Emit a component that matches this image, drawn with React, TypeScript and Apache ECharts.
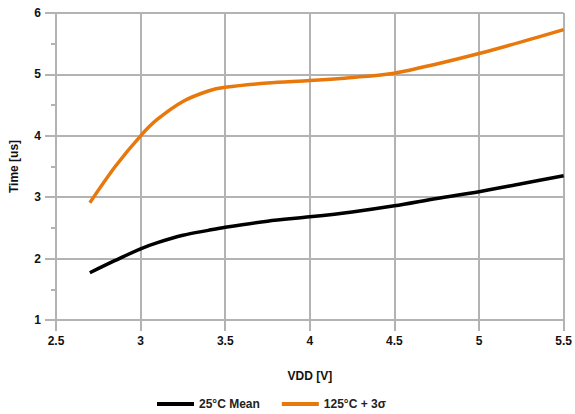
import React, { useEffect, useRef } from "react";
import * as echarts from "echarts";

const vdd = [2.7, 2.85, 3.0, 3.1, 3.25, 3.4, 3.5, 3.75, 4.0, 4.25, 4.5, 4.75, 5.0, 5.25, 5.5];
const mean25 = [1.77, 1.97, 2.16, 2.26, 2.38, 2.46, 2.51, 2.61, 2.68, 2.76, 2.86, 2.98, 3.09, 3.22, 3.35];
const hot125 = [2.91, 3.5, 4.0, 4.27, 4.56, 4.73, 4.79, 4.86, 4.9, 4.95, 5.02, 5.17, 5.34, 5.53, 5.73];

const seriesNames = ["25°C Mean", "125°C + 3σ"];
const seriesColors = ["#000000", "#E8780C"];

const FONT = "'Liberation Sans', Arial, sans-serif";
const GRID = "#b3b3b3";

export default function App() {
  const ref = useRef<HTMLDivElement>(null);
  useEffect(() => {
    if (!ref.current) return;
    const chart = echarts.init(ref.current, undefined, { renderer: "svg" });
    const toPairs = (ys: number[]) => vdd.map((x, i) => [x, ys[i]]);
    chart.setOption({
      animation: false,
      textStyle: { fontFamily: FONT },
      grid: { left: 54, right: 8, top: 13, bottom: 94, containLabel: false },
      legend: {
        left: 152,
        top: 393,
        itemWidth: 37,
        itemHeight: 4,
        itemGap: 22,
        icon: "rect",
        textStyle: { fontFamily: FONT, fontSize: 12, fontWeight: "bold", color: "#222" },
        data: seriesNames,
      },
      xAxis: {
        type: "value",
        min: 2.5,
        max: 5.5,
        interval: 0.5,
        name: "VDD [V]",
        nameLocation: "middle",
        nameGap: 50,
        nameTextStyle: { fontFamily: FONT, fontSize: 12, fontWeight: "bold", color: "#111" },
        axisLine: { show: false },
        axisTick: { show: true, length: 11, lineStyle: { color: GRID, width: 2 } },
        axisLabel: { margin: 15, fontFamily: FONT, fontSize: 12, fontWeight: "bold", color: "#111" },
        splitLine: { show: true, lineStyle: { color: GRID, width: 2 } },
      },
      yAxis: {
        type: "value",
        min: 1,
        max: 6,
        interval: 1,
        name: "Time [us]",
        nameLocation: "middle",
        nameGap: 36,
        nameTextStyle: { fontFamily: FONT, fontSize: 12, fontWeight: "bold", color: "#111" },
        axisLine: { show: false },
        axisTick: { show: true, length: 11, lineStyle: { color: GRID, width: 2 } },
        minorTick: { show: true, splitNumber: 2, length: 5, lineStyle: { color: GRID, width: 2 } },
        axisLabel: { margin: 15, fontFamily: FONT, fontSize: 12, fontWeight: "bold", color: "#111" },
        splitLine: { show: true, lineStyle: { color: GRID, width: 2 } },
      },
      series: [
        {
          name: seriesNames[0],
          type: "line",
          data: toPairs(mean25),
          smooth: 0.3,
          showSymbol: false,
          symbol: "none",
          lineStyle: { color: seriesColors[0], width: 3.5 },
          itemStyle: { color: seriesColors[0] },
        },
        {
          name: seriesNames[1],
          type: "line",
          data: toPairs(hot125),
          smooth: 0.3,
          showSymbol: false,
          symbol: "none",
          lineStyle: { color: seriesColors[1], width: 3.5 },
          itemStyle: { color: seriesColors[1] },
        },
      ],
    });
    return () => chart.dispose();
  }, []);
  return <div ref={ref} style={{ width: 575, height: 414, position: "absolute", left: 0, top: 0 }} />;
}
